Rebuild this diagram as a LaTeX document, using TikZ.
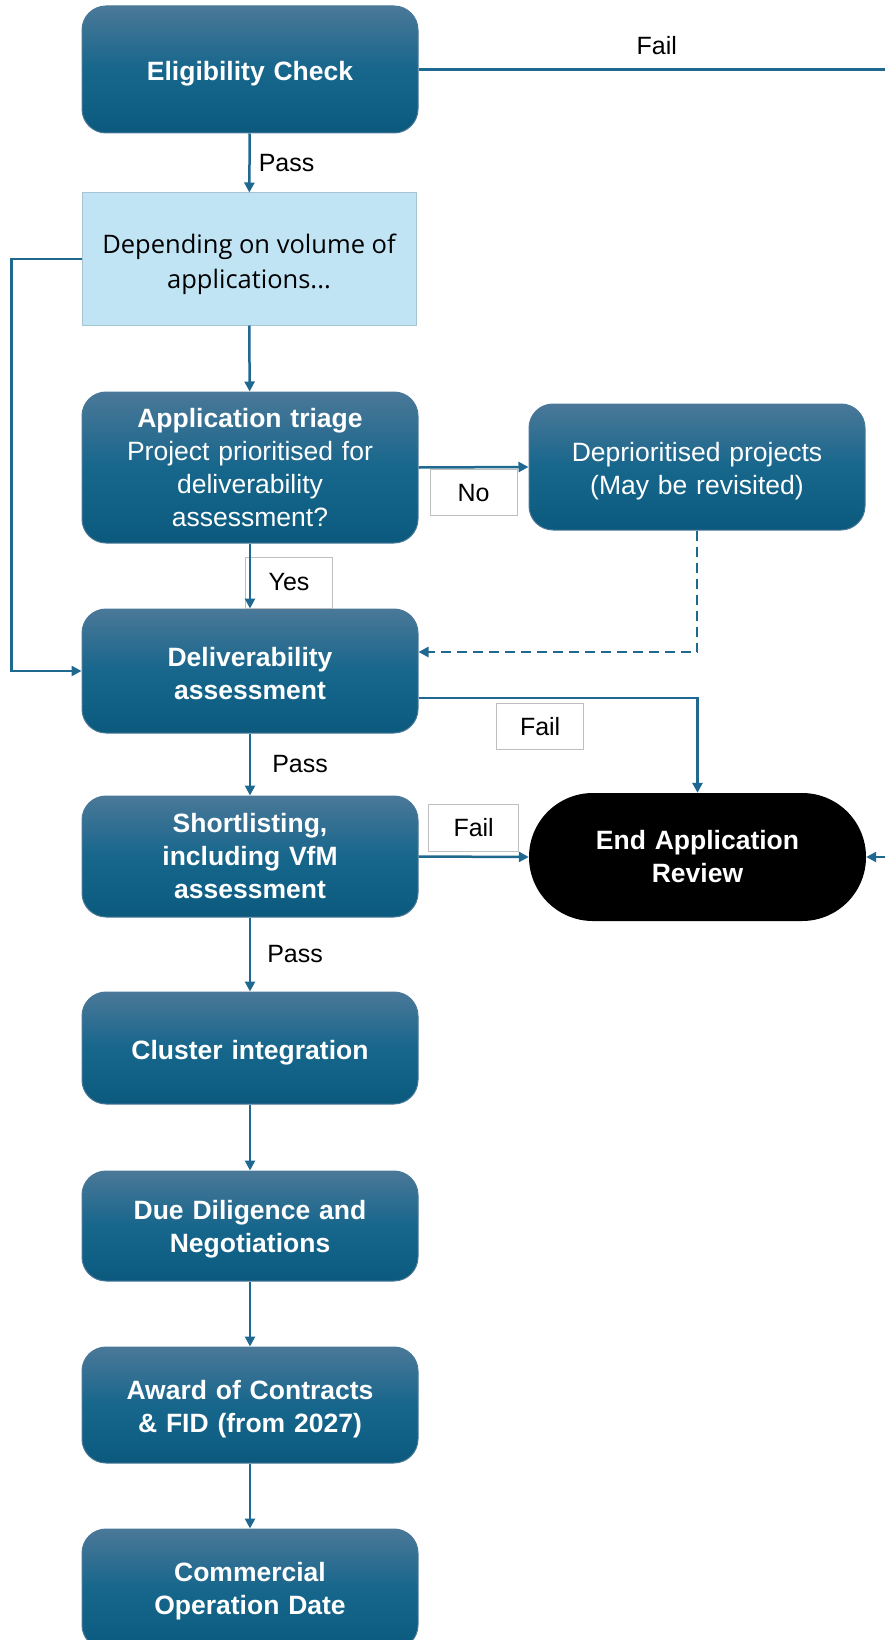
\documentclass[tikz,border=0pt]{standalone}
\usepackage{fontspec}
\setmainfont{Liberation Sans}
\newfontfamily\notefont{Open Sans}
\usetikzlibrary{arrows.meta}
\definecolor{flowtop}{HTML}{4A7898}
\definecolor{flowmid}{HTML}{17668C}
\definecolor{flowbot}{HTML}{0B5A7E}
\definecolor{flowline}{HTML}{1F6990}
\definecolor{notefill}{HTML}{C1E4F5}
\definecolor{noteline}{HTML}{A6C4D2}
\definecolor{tagline}{HTML}{BFBFBF}
\begin{document}
\begin{tikzpicture}[
    x=1pt, y=-1pt,
    >={Triangle[length=10pt,width=10pt]},
    text drop/.store in=\textdrop,
    text drop=0pt,
    execute at begin node={\rule{0pt}{\textdrop}},
    flow line/.style={draw=flowline, line width=2.5pt},
    stage box/.style={rounded corners=24pt, top color=flowtop, bottom color=flowbot,
        middle color=flowmid, draw=flowtop, line width=1pt, minimum width=336pt,
        text width=326pt, align=center, text=white, inner sep=0pt, text drop=28pt,
        font=\fontsize{26.5}{33}\selectfont\bfseries},
    end box/.style={rounded corners=63.9pt, fill=black, minimum width=337pt,
        minimum height=128pt, text width=326pt, align=center, text=white,
        font=\fontsize{26.5}{33}\selectfont\bfseries},
    note box/.style={fill=notefill, draw=noteline, line width=1pt, minimum width=334pt,
        minimum height=132pt, text width=320pt, align=flush center, text drop=30pt,
        font=\notefont\fontsize{25.5}{35}\selectfont},
    tag box/.style={fill=white, draw=tagline, line width=1pt, minimum width=87pt,
        minimum height=46pt, inner sep=0pt, font=\fontsize{25}{28}\selectfont},
    tag/.style={inner sep=0pt, font=\fontsize{25}{28}\selectfont}
    ]
    \useasboundingbox (0,0) rectangle (885,1640);

    \node[stage box, minimum height=127pt] (elig) at (250,69.5) {Eligibility Check};
    \node[note box] (vol) at (249,259) {Depending on volume of\\applications...};
    \node[stage box, minimum height=151pt, text drop=0pt, font=\fontsize{26.5}{33}\selectfont] (triage) at (250,467.5)
        {\textbf{Application triage}\\Project prioritised for\\deliverability\\assessment?};
    \node[stage box, minimum height=126pt, font=\fontsize{26.5}{33}\selectfont] (depri) at (697,467)
        {Deprioritised projects\\(May be revisited)};
    \node[stage box, minimum height=124pt, text drop=23.5pt] (deliv) at (250,671) {Deliverability\\assessment};
    \node[stage box, minimum height=121pt, text drop=0pt] (short) at (250,856.5) {Shortlisting,\\including VfM\\assessment};
    \node[end box] (endrev) at (697.5,857) {End Application\\Review};
    \node[stage box, minimum height=112pt] (cluster) at (250,1048) {Cluster integration};
    \node[stage box, minimum height=110pt, text drop=25.5pt] (due) at (250,1226) {Due Diligence and\\Negotiations};
    \node[stage box, minimum height=116pt] (award) at (250,1405) {Award of Contracts\\\& FID (from 2027)};
    \node[stage box, minimum height=120pt, text drop=23.5pt] (cod) at (250,1589) {Commercial\\Operation Date};

    \coordinate (offright) at (960,857);

    \draw[flow line, ->] (elig) -- node[tag, right=8pt] {Pass} (vol);
    \draw[flow line, ->] (elig.east) -| node[tag, above=14pt, pos=0.22] {Fail} (offright) -- (endrev.east);
    \draw[flow line, ->] (vol) -- (triage);
    \draw[flow line, ->] (vol.west) -- ++(-70,0) |- (deliv.west);
    \draw[flow line, ->] (triage.east) -- node[tag box, below=2pt] {No} (depri.west);
    \node[tag box, fill=none, minimum height=51pt] (yes) at (289,582.5) {Yes};
    \draw[flow line, ->] (triage) -- (deliv);
    \draw[flow line, dashed, dash pattern=on 10pt off 6pt, ->] (depri.south) |- ([yshift=19pt]deliv.east);
    \draw[flow line, ->] ([yshift=-27pt]deliv.east) -| node[tag box, below=5pt, pos=0.218] {Fail} (endrev.north);
    \draw[flow line, ->] (deliv) -- node[tag, right=21pt] {Pass} (short);
    \draw[flow line, ->] (short.east) -- node[tag box, above=5pt, minimum width=90pt, minimum height=47pt] {Fail} (endrev.west);
    \draw[flow line, ->] (short) -- node[tag, right=16pt] {Pass} (cluster);
    \draw[flow line, ->] (cluster) -- (due);
    \draw[flow line, ->] (due) -- (award);
    \draw[flow line, ->] (award) -- (cod);
\end{tikzpicture}
\end{document}
